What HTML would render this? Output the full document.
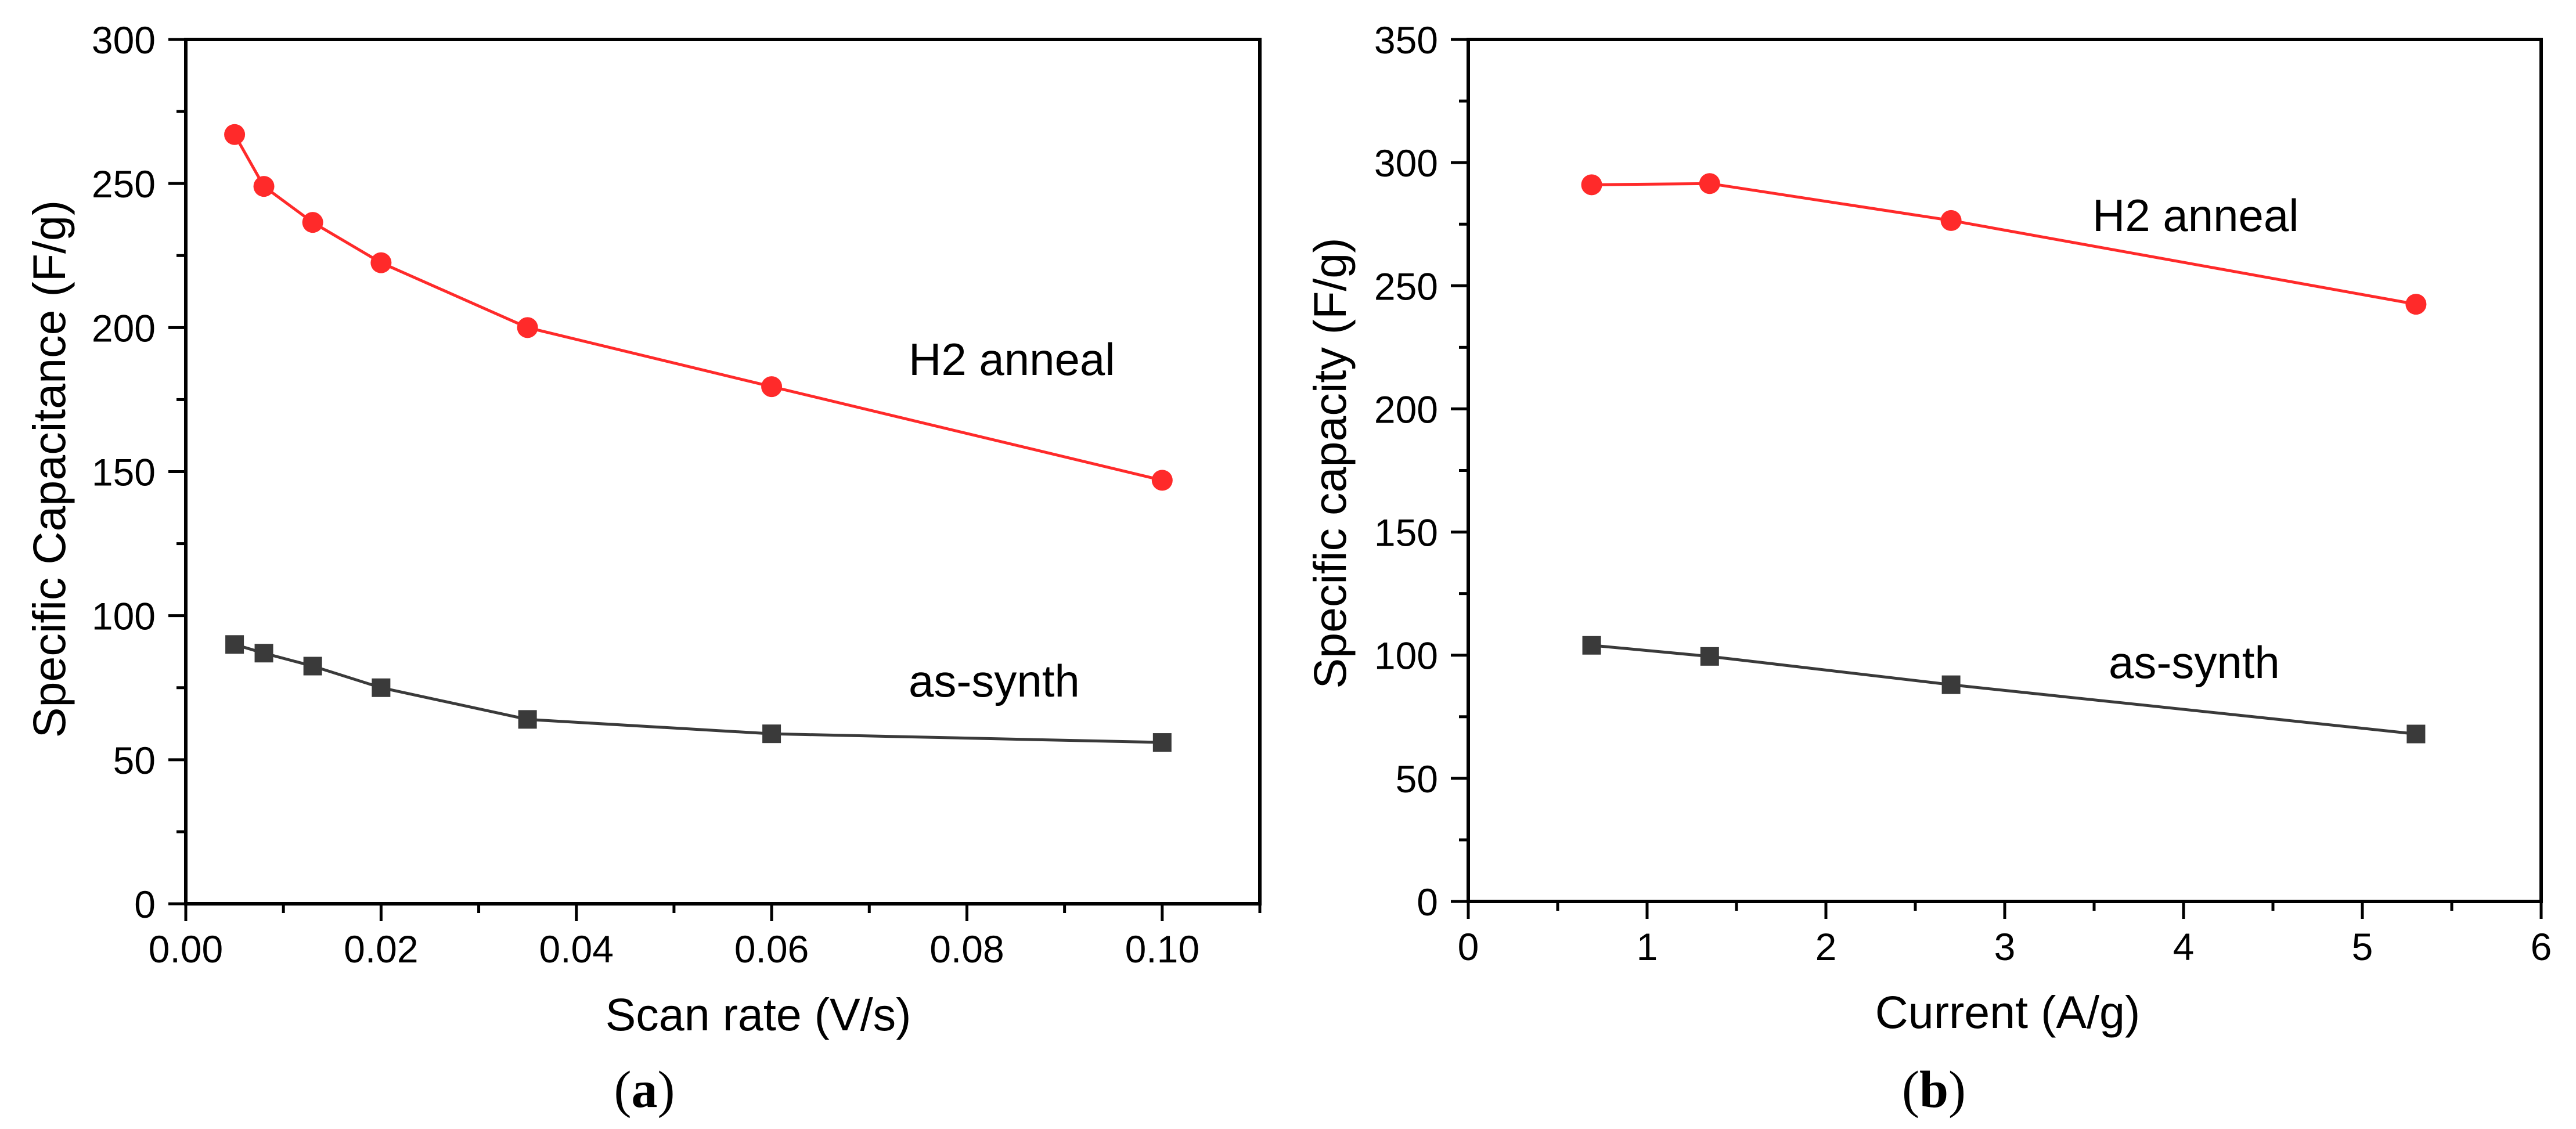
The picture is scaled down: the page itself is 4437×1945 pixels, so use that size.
<!DOCTYPE html>
<html><head><meta charset="utf-8"><style>
html,body{margin:0;padding:0;background:#fff;}
svg{display:block;font-family:"Liberation Sans",sans-serif;}
</style></head><body>
<svg id="fig" width="4437" height="1945" viewBox="0 0 4437 1945" xmlns="http://www.w3.org/2000/svg">
<rect x="0" y="0" width="4437" height="1945" fill="#fff"/>
<g id="ga"></g>
<g id="gb"></g>
</svg>
<script>
// Panel (a) data
const aX = [0.005, 0.008, 0.013, 0.02, 0.035, 0.06, 0.1];
const aH2 = [267, 249, 236.5, 222.5, 200, 179.5, 147];
const aAs = [90, 87, 82.5, 75, 64, 59, 56];
const aXTicks = [0, 0.02, 0.04, 0.06, 0.08, 0.10];
const aXTickLabels = ["0.00", "0.02", "0.04", "0.06", "0.08", "0.10"];
const aYTicks = [0, 50, 100, 150, 200, 250, 300];
// Panel (b) data
const bX = [0.69, 1.35, 2.7, 5.3];
const bH2 = [291, 291.5, 276.5, 242.5];
const bAs = [104, 99.5, 88, 68];
const bXTicks = [0, 1, 2, 3, 4, 5, 6];
const bYTicks = [0, 50, 100, 150, 200, 250, 300, 350];

const NS = "http://www.w3.org/2000/svg";
function mk(parent, tag, attrs, text) {
  const e = document.createElementNS(NS, tag);
  for (const k in attrs) e.setAttribute(k, attrs[k]);
  if (text !== undefined) e.textContent = text;
  parent.appendChild(e);
  return e;
}

function panel(g, cfg) {
  const {L, R, T, B, xmin, xmax, ymin, ymax, xt, xtl, xminor, yt, yminor} = cfg;
  const sx = v => L + (v - xmin) / (xmax - xmin) * (R - L);
  const sy = v => B - (v - ymin) / (ymax - ymin) * (B - T);
  const fr = mk(g, "rect", {x: L, y: T, width: R - L, height: B - T, fill: "none", stroke: "#000", "stroke-width": 6});
  
  
  xt.forEach((v, i) => {
    const t = mk(g, "line", {x1: sx(v), x2: sx(v), y1: B, y2: B + 30, stroke: "#000", "stroke-width": 5});
    
    
    const lb = mk(g, "text", {x: sx(v), y: B + 101, "font-size": 66, "text-anchor": "middle", fill: "#000"}, xtl ? xtl[i] : String(v));
    
    
  });
  for (let v = xmin + xminor; v < xmax; v += xminor) {
    if (xt.some(t => Math.abs(t - v) < 1e-9)) continue;
    const t = mk(g, "line", {x1: sx(v), x2: sx(v), y1: B, y2: B + 16, stroke: "#000", "stroke-width": 5});
    
    
  }
  yt.forEach(v => {
    const t = mk(g, "line", {x1: L - 30, x2: L, y1: sy(v), y2: sy(v), stroke: "#000", "stroke-width": 5});
    
    
    const lb = mk(g, "text", {x: L - 52, y: sy(v) + 24, "font-size": 66, "text-anchor": "end", fill: "#000"}, String(v));
    
    
  });
  for (let v = ymin + yminor; v < ymax; v += yminor) {
    if (yt.some(t => Math.abs(t - v) < 1e-9)) continue;
    const t = mk(g, "line", {x1: L - 16, x2: L, y1: sy(v), y2: sy(v), stroke: "#000", "stroke-width": 5});
    
    
  }
  function series(xs, ys, color, shape, name) {
    const pl = mk(g, "polyline", {points: xs.map((x, i) => sx(x) + "," + sy(ys[i])).join(" "), fill: "none", stroke: color, "stroke-width": 5});
    
    
    xs.forEach((x, i) => {
      let m;
      if (shape === "circle") m = mk(g, "circle", {cx: sx(x), cy: sy(ys[i]), r: 18, fill: color});
      else m = mk(g, "rect", {x: sx(x) - 16, y: sy(ys[i]) - 16, width: 32, height: 32, fill: color});
      
      
    });
  }
  series(cfg.xs, cfg.h2, "#ff2a2a", "circle", "h2-anneal");
  series(cfg.xs, cfg.as, "#3a3a3a", "square", "as-synth");
  const a1 = mk(g, "text", {x: cfg.h2lab[0], y: cfg.h2lab[1], "font-size": 78, fill: "#000"}, "H2 anneal");
  
  
  const a2 = mk(g, "text", {x: cfg.aslab[0], y: cfg.aslab[1], "font-size": 78, fill: "#000"}, "as-synth");
  
  
  const xtit = mk(g, "text", {x: cfg.xtitle[0], y: cfg.xtitle[1], "font-size": 79, "text-anchor": "middle", fill: "#000"}, cfg.xtitle[2]);
  
  
  const ytit = mk(g, "text", {x: 0, y: 0, "font-size": 79, "text-anchor": "middle", fill: "#000", transform: "translate(" + cfg.ytitle[0] + "," + cfg.ytitle[1] + ") rotate(-90)"}, cfg.ytitle[2]);
  
  
  const cap = mk(g, "text", {x: cfg.cap[0], y: 1907, "font-size": 90, "text-anchor": "middle", fill: "#000", "font-family": "Liberation Serif, serif"});
  
  
  mk(cap, "tspan", {}, "(");
  mk(cap, "tspan", {"font-weight": "bold"}, cfg.cap[1]);
  mk(cap, "tspan", {}, ")");
}

panel(document.getElementById("ga"), {
  L: 320, R: 2170, T: 68, B: 1557, xmin: 0, xmax: 0.11, ymin: 0, ymax: 300,
  xt: aXTicks, xtl: aXTickLabels, xminor: 0.01, yt: aYTicks, yminor: 25,
  xs: aX, h2: aH2, as: aAs,
  h2lab: [1565, 646], aslab: [1565, 1200],
  xtitle: [1306, 1775, "Scan rate (V/s)"], ytitle: [112, 808, "Specific Capacitance (F/g)"],
  cap: [1110, "a"]
});
panel(document.getElementById("gb"), {
  L: 2529, R: 4377, T: 68, B: 1553, xmin: 0, xmax: 6, ymin: 0, ymax: 350,
  xt: bXTicks, xtl: null, xminor: 0.5, yt: bYTicks, yminor: 25,
  xs: bX, h2: bH2, as: bAs,
  h2lab: [3604, 398], aslab: [3632, 1168],
  xtitle: [3458, 1771, "Current (A/g)"], ytitle: [2318, 798, "Specific capacity (F/g)"],
  cap: [3331, "b"]
});
</script>
</body></html>
